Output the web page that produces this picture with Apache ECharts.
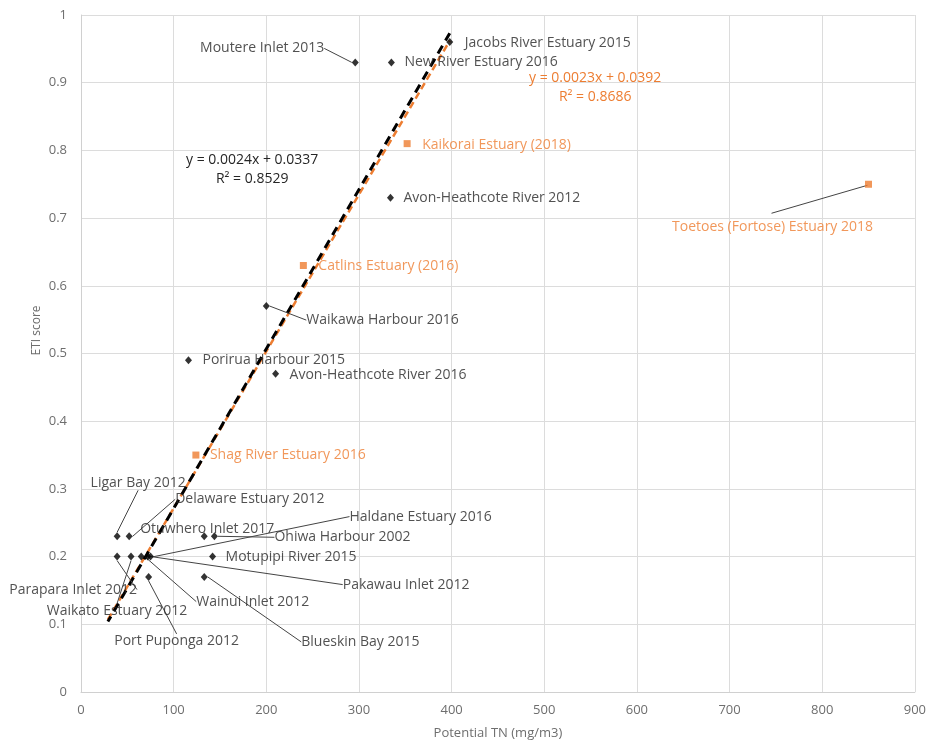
<!DOCTYPE html>
<html><head><meta charset="utf-8">
<script src="https://cdn.jsdelivr.net/npm/echarts@6/dist/echarts.min.js"></script>
<style>html,body{margin:0;padding:0;background:#fff}#c{width:929px;height:745px}</style>
</head><body><div id="c"></div>
<script>
// ---- data ----
const blackNames = ['Moutere Inlet 2013','New River Estuary 2016','Jacobs River Estuary 2015','Avon-Heathcote River 2012','Waikawa Harbour 2016','Porirua Harbour 2015','Avon-Heathcote River 2016','Ligar Bay 2012','Delaware Estuary 2012','Otuwhero Inlet 2017','Ohiwa Harbour 2002','Parapara Inlet 2012','Waikato Estuary 2012','Wainui Inlet 2012','Pakawau Inlet 2012','Haldane Estuary 2016','Motupipi River 2015','Port Puponga 2012','Blueskin Bay 2015'];
const blackX = [296, 335, 398, 334, 200, 116, 210, 39, 52, 133, 144, 39, 54, 65, 72, 75, 142, 73, 133];
const blackY = [0.93, 0.93, 0.96, 0.73, 0.57, 0.49, 0.47, 0.23, 0.23, 0.23, 0.23, 0.2, 0.2, 0.2, 0.2, 0.2, 0.2, 0.17, 0.17];
const orangeNames = ['Kaikorai Estuary (2018)','Toetoes (Fortose) Estuary 2018','Catlins Estuary (2016)','Shag River Estuary 2016'];
const orangeX = [352, 850, 240, 124];
const orangeY = [0.81, 0.75, 0.63, 0.35];
const blackTrend = [[29, 0.104], [398, 0.973]];
const orangeTrend = [[29, 0.107], [398, 0.962]];
const blackEquation = 'y = 0.0024x + 0.0337\nR² = 0.8529';
const orangeEquation = 'y = 0.0023x + 0.0392\nR² = 0.8686';
const xAxisTitle = 'Potential TN (mg/m3)';
const yAxisTitle = 'ETI score';

// ---- label placement (pixels relative to the marker) ----
const place = {
  'Moutere Inlet 2013': {dx:-31, dy:-14, align:'right', leader:[[0,0],[-18,-14],[-26,-14]]},
  'New River Estuary 2016': {dx:13, dy:0},
  'Jacobs River Estuary 2015': {dx:15, dy:1},
  'Avon-Heathcote River 2012': {dx:13, dy:0},
  'Waikawa Harbour 2016': {dx:40, dy:14, leader:[[0,0],[18,8],[30,14],[36,14]]},
  'Porirua Harbour 2015': {dx:14, dy:0},
  'Avon-Heathcote River 2016': {dx:14, dy:1},
  'Ligar Bay 2012': {dx:21, dy:-53, align:'center', leader:[[0,0],[22,-42]]},
  'Delaware Estuary 2012': {dx:46, dy:-37, leader:[[0,0],[34,-37],[42,-37]]},
  'Otuwhero Inlet 2017': {dx:3, dy:-7, align:'center'},
  'Ohiwa Harbour 2002': {dx:60, dy:1, leader:[[-10,0],[25,0],[56,0]]},
  'Parapara Inlet 2012': {dx:-44, dy:33, align:'center', leader:[[0,0],[-43,19]]},
  'Waikato Estuary 2012': {dx:-14, dy:54, align:'center', leader:[[0,0],[-9,40]]},
  'Wainui Inlet 2012': {dx:55, dy:45, leader:[[0,0],[46,45],[51,45]]},
  'Pakawau Inlet 2012': {dx:195, dy:28, leader:[[0,0],[186,28],[192,28]]},
  'Haldane Estuary 2016': {dx:199, dy:-40, leader:[[0,0],[194,-40],[197,-40]]},
  'Motupipi River 2015': {dx:13, dy:0},
  'Port Puponga 2012': {dx:28, dy:64, align:'center', leader:[[0,0],[28,52]]},
  'Blueskin Bay 2015': {dx:97, dy:65, leader:[[0,0],[86,64],[93,64]]},
  'Kaikorai Estuary (2018)': {dx:15, dy:1},
  'Toetoes (Fortose) Estuary 2018': {dx:-96, dy:43, align:'center', graphicLeader:[[-1,1],[-97,29]]},
  'Catlins Estuary (2016)': {dx:15, dy:1},
  'Shag River Estuary 2016': {dx:14, dy:0}
};

const FONT = '"Open Sans", "Noto Sans", sans-serif';
const ORANGE = '#ED7D31';
const TEXT = '#262626';

function makeData(names, xs, ys) {
  return names.map((n, i) => ({
    name: n,
    value: [xs[i], ys[i]],
    labelLine: {show: !!place[n].leader}
  }));
}

function layoutFor(names) {
  return function (params) {
    const n = names[params.dataIndex];
    const p = place[n];
    const cx = params.rect.x + params.rect.width / 2;
    const cy = params.rect.y + params.rect.height / 2;
    const out = {
      x: cx + p.dx, y: cy + p.dy,
      align: p.align || 'left', verticalAlign: 'middle'
    };
    if (p.leader) out.labelLinePoints = p.leader.map(q => [cx + q[0], cy + q[1]]);
    return out;
  };
}

const chart = echarts.init(document.getElementById('c'), null, {renderer: 'canvas'});
chart.setOption({
  animation: false,
  backgroundColor: '#fff',
  grid: {left: 81, right: 13, top: 15, bottom: 53},
  xAxis: {
    type: 'value', min: 0, max: 900, interval: 100,
    name: xAxisTitle, nameLocation: 'middle', nameGap: 35,
    nameTextStyle: {color: '#6e6e6e', fontSize: 13, fontFamily: FONT},
    axisLine: {show: true, lineStyle: {color: '#d0d0d0'}},
    axisTick: {show: false},
    axisLabel: {color: '#6e6e6e', fontSize: 13, fontFamily: FONT, margin: 12},
    splitLine: {show: true, lineStyle: {color: '#dcdcdc', width: 1}}
  },
  yAxis: {
    type: 'value', min: 0, max: 1, interval: 0.1,
    name: yAxisTitle, nameLocation: 'middle', nameGap: 38, nameMoveOverlap: false,
    nameTextStyle: {color: '#6e6e6e', fontSize: 12, fontFamily: FONT, padding: [0, 0, 0, 46]},
    axisLine: {show: true, lineStyle: {color: '#d0d0d0'}},
    axisTick: {show: false},
    axisLabel: {color: '#6e6e6e', fontSize: 13, fontFamily: FONT, margin: 14},
    splitLine: {show: true, lineStyle: {color: '#dcdcdc', width: 1}}
  },
  series: [
    {
      type: 'line', data: orangeTrend, showSymbol: false, symbol: 'none', silent: true,
      lineStyle: {color: ORANGE, width: 2.5, type: [7, 4]}, z: 3
    },
    {
      type: 'line', data: blackTrend, showSymbol: false, symbol: 'none', silent: true,
      lineStyle: {color: '#000', width: 3, type: [9, 6], dashOffset: 3}, z: 4
    },
    {
      type: 'scatter', data: makeData(blackNames, blackX, blackY),
      symbol: 'diamond', symbolSize: [7, 8], itemStyle: {color: '#000'}, z: 5,
      label: {show: true, formatter: '{b}', color: TEXT, fontSize: 14, fontFamily: FONT},
      labelLine: {show: true, lineStyle: {color: '#444', width: 1}},
      labelLayout: layoutFor(blackNames)
    },
    {
      type: 'scatter', data: makeData(orangeNames, orangeX, orangeY),
      symbol: 'rect', symbolSize: 7, itemStyle: {color: ORANGE}, z: 5,
      label: {show: true, formatter: '{b}', color: ORANGE, fontSize: 14, fontFamily: FONT},
      labelLine: {show: true, lineStyle: {color: '#444', width: 1}},
      labelLayout: layoutFor(orangeNames)
    }
  ],
  graphic: [
    {type: 'text', left: 256 - 70, top: 151, style: {text: blackEquation, fill: TEXT, font: '14px ' + FONT, textAlign: 'center', lineHeight: 19}, z: 10},
    {type: 'text', left: 599 - 70, top: 69, style: {text: orangeEquation, fill: ORANGE, font: '14px ' + FONT, textAlign: 'center', lineHeight: 19}, z: 10}
  ]
});

// leader lines drawn as graphics, anchored to the marker pixel positions from the axes
const extra = [];
orangeNames.forEach((n, i) => {
  const p = place[n];
  if (!p.graphicLeader) return;
  const c = chart.convertToPixel({seriesIndex: 3}, [orangeX[i], orangeY[i]]);
  extra.push({
    type: 'polyline', silent: true, z: 4,
    shape: {points: p.graphicLeader.map(q => [c[0] + q[0], c[1] + q[1]])},
    style: {stroke: '#444', lineWidth: 1, fill: null}
  });
});
const g = chart.getOption().graphic[0].elements.map(e => ({id: e.id}));
chart.setOption({graphic: extra.map((e, k) => Object.assign({id: 'leader' + k}, e))});
</script></body></html>
